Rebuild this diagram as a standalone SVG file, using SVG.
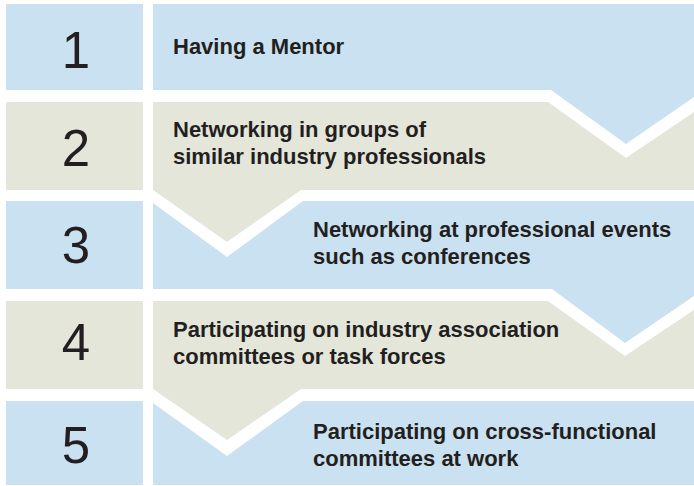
<svg xmlns="http://www.w3.org/2000/svg" width="694" height="486" viewBox="0 0 694 486">
<style>
.bg{fill:#ffffff}
.blue{fill:#c9e1f0}
.gray{fill:#e4e6da}
.num{font-family:"Liberation Sans",Arial,sans-serif;font-size:51px;font-weight:normal;fill:#231f20;text-anchor:middle}
.lbl{font-family:"Liberation Sans",Arial,sans-serif;font-size:22px;font-weight:bold;fill:#231f20}
</style>
<rect class="bg" x="0" y="0" width="694" height="486"/>
<g id="step1">
<rect class="blue" x="6" y="4" width="137" height="86"/>
<path class="blue" d="M153,4 H694 V97 L626,144 L551,90 H153 Z"/>
<text class="num" x="76" y="68">1</text>
<text class="lbl" x="173" y="54">Having a Mentor</text>
</g>
<g id="step2">
<rect class="gray" x="6" y="102" width="137" height="88"/>
<path class="gray" d="M153,102 H548 L626,158 L694,112 V190 H301 L227,242 L153,190 Z"/>
<text class="num" x="76" y="166">2</text>
<text class="lbl" x="173" y="137">Networking in groups of</text>
<text class="lbl" x="173" y="164">similar industry professionals</text>
</g>
<g id="step3">
<rect class="blue" x="6" y="201" width="137" height="88"/>
<path class="blue" d="M153,203 L227,257 L303,201 H694 V296 L625,343 L552,289 H153 Z"/>
<text class="num" x="76" y="263">3</text>
<text class="lbl" x="313" y="237">Networking at professional events</text>
<text class="lbl" x="313" y="264">such as conferences</text>
</g>
<g id="step4">
<rect class="gray" x="6" y="301" width="137" height="88"/>
<path class="gray" d="M153,301 H548 L625,356 L694,310 V389 H301 L227,440 L153,389 Z"/>
<text class="num" x="76" y="360">4</text>
<text class="lbl" x="173" y="337">Participating on industry association</text>
<text class="lbl" x="173" y="364">committees or task forces</text>
</g>
<g id="step5">
<rect class="blue" x="6" y="401" width="137" height="84"/>
<path class="blue" d="M153,403 L227,456 L303,401 H694 V485 H153 Z"/>
<text class="num" x="76" y="463">5</text>
<text class="lbl" x="313" y="439">Participating on cross-functional</text>
<text class="lbl" x="313" y="466">committees at work</text>
</g>
<g id="connectors"></g>
</svg>
